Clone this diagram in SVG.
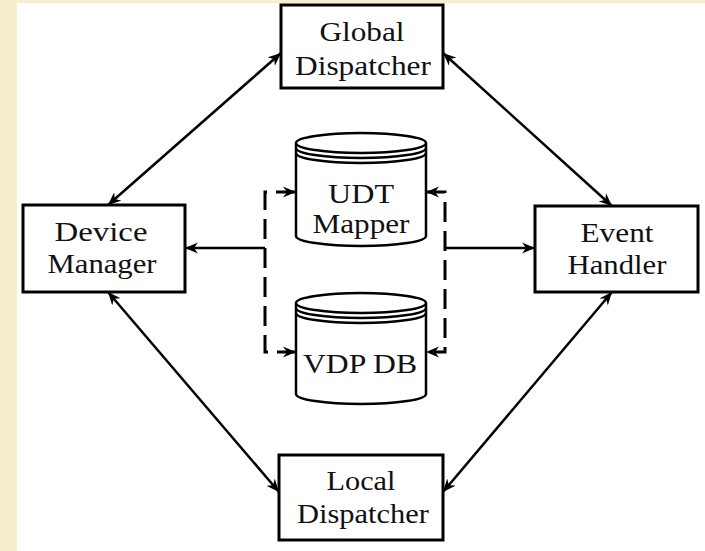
<svg xmlns="http://www.w3.org/2000/svg" width="705" height="551" viewBox="0 0 705 551">
<style>
.box{fill:#fff;stroke:#000;stroke-width:3}
.cyl{fill:#fff;stroke:#000;stroke-width:2.5}
.rim{fill:none;stroke:#000;stroke-width:2.5}
.lbl{font-family:"Liberation Serif","Times New Roman",serif;font-size:28px;fill:#111;text-anchor:middle}
.solid{fill:none;stroke:#000;stroke-width:2.5;marker-end:url(#ah)}
.both{fill:none;stroke:#000;stroke-width:2.5;marker-start:url(#ah);marker-end:url(#ah)}
.dash{fill:none;stroke:#000;stroke-width:3;stroke-dasharray:20 9;marker-start:url(#ah);marker-end:url(#ah)}
</style>
<defs>
<marker id="ah" markerUnits="userSpaceOnUse" markerWidth="14" markerHeight="12" refX="13" refY="6" orient="auto-start-reverse" viewBox="0 0 14 12">
<path d="M0,0.5 L13,6 L0,11.5 L4,6 Z" fill="#000"/>
</marker>
</defs>
<rect x="0" y="0" width="705" height="551" fill="#fff"/>
<rect x="0" y="0" width="17" height="551" fill="#f5f0cb"/>
<rect x="0" y="0" width="705" height="3" fill="#f5f0cb"/>

<g id="connectors">
<line class="both" x1="108" y1="205" x2="281" y2="53"/>
<line class="both" x1="443" y1="53" x2="612" y2="206"/>
<line class="both" x1="108" y1="292" x2="279" y2="492"/>
<line class="both" x1="612" y1="292" x2="443" y2="492"/>
<line class="solid" x1="265" y1="248" x2="185" y2="248"/>
<line class="solid" x1="445" y1="248" x2="535" y2="248"/>
<path class="dash" d="M296,192 L265,192 L265,352 L296,352"/>
<path class="dash" d="M426,192 L445,192 L445,352 L426,352"/>
</g>

<g id="global-dispatcher">
<rect class="box" x="281" y="5" width="162" height="83"/>
<text class="lbl" x="362" y="41" textLength="85" lengthAdjust="spacingAndGlyphs">Global</text>
<text class="lbl" x="363" y="75" textLength="136" lengthAdjust="spacingAndGlyphs">Dispatcher</text>
</g>

<g id="device-manager">
<rect class="box" x="23" y="205" width="162" height="87"/>
<text class="lbl" x="101" y="241" textLength="93" lengthAdjust="spacingAndGlyphs">Device</text>
<text class="lbl" x="102" y="273" textLength="109" lengthAdjust="spacingAndGlyphs">Manager</text>
</g>

<g id="event-handler">
<rect class="box" x="535" y="206" width="163" height="86"/>
<text class="lbl" x="617" y="242" textLength="73" lengthAdjust="spacingAndGlyphs">Event</text>
<text class="lbl" x="617" y="274" textLength="99" lengthAdjust="spacingAndGlyphs">Handler</text>
</g>

<g id="local-dispatcher">
<rect class="box" x="279" y="455" width="164" height="85"/>
<text class="lbl" x="361" y="490" textLength="69" lengthAdjust="spacingAndGlyphs">Local</text>
<text class="lbl" x="363" y="523" textLength="132" lengthAdjust="spacingAndGlyphs">Dispatcher</text>
</g>

<g id="udt-mapper">
<path class="cyl" d="M296,143 L296,236 A65,10 0 0 0 426,236 L426,143"/>
<ellipse class="cyl" cx="361" cy="143" rx="65" ry="10"/>
<path class="rim" d="M296,148 A65,10 0 0 0 426,148 M296,153 A65,10 0 0 0 426,153"/>
<text class="lbl" x="361" y="203" textLength="66" lengthAdjust="spacingAndGlyphs">UDT</text>
<text class="lbl" x="361" y="233" textLength="97" lengthAdjust="spacingAndGlyphs">Mapper</text>
</g>

<g id="vdp-db">
<path class="cyl" d="M296,303 L296,394 A65,10 0 0 0 426,394 L426,303"/>
<ellipse class="cyl" cx="361" cy="303" rx="65" ry="10"/>
<path class="rim" d="M296,308 A65,10 0 0 0 426,308 M296,313 A65,10 0 0 0 426,313"/>
<text class="lbl" x="360" y="373" textLength="114" lengthAdjust="spacingAndGlyphs">VDP DB</text>
</g>
</svg>
